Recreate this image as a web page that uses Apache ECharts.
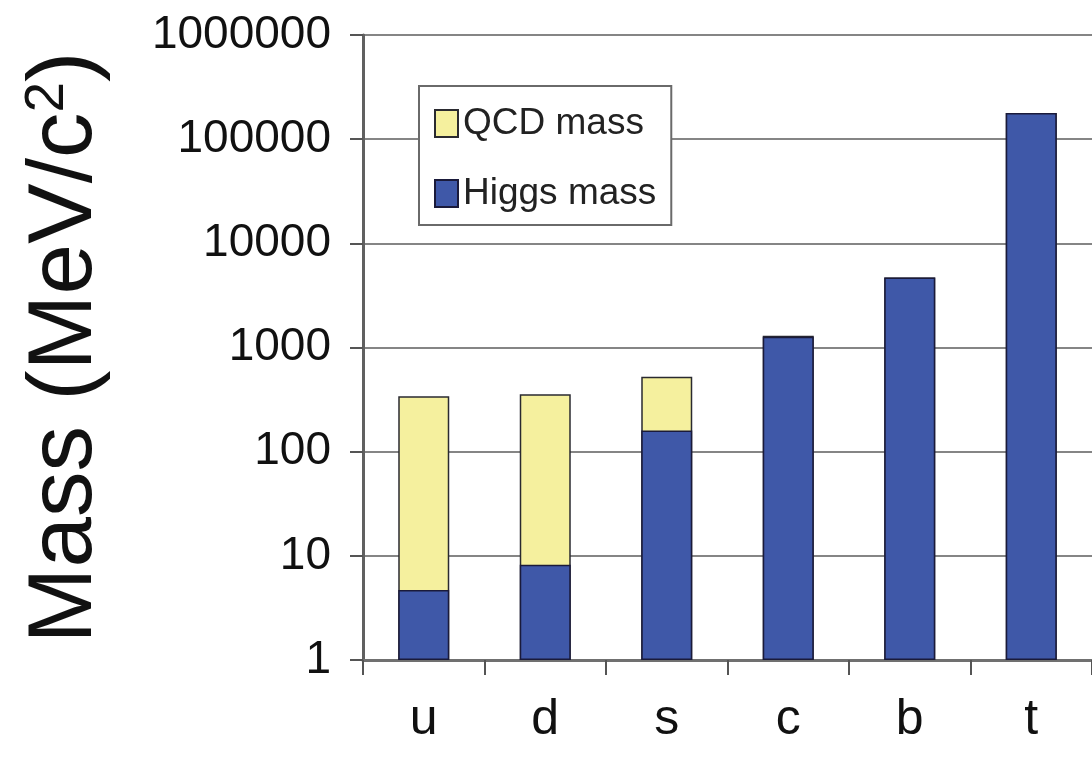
<!DOCTYPE html>
<html>
<head>
<meta charset="utf-8">
<script src="https://cdn.jsdelivr.net/npm/echarts@6/dist/echarts.min.js"></script>
<style>
html,body{margin:0;padding:0;background:#fff;}
#chart{width:1092px;height:767px;}
</style>
</head>
<body>
<div id="chart"></div>
<script>
const categories = ['u', 'd', 's', 'c', 'b', 't'];
const higgsMass = [4.7, 8.2, 160, 1270, 4700, 178000];
const qcdMass = [335, 347, 365, 30, 0, 0];
const yTicks = [1, 10, 100, 1000, 10000, 100000, 1000000];

const totalMass = higgsMass.map((h, i) => h + qcdMass[i]);

const chart = echarts.init(document.getElementById('chart'));
const font = 'Liberation Sans, Arial, sans-serif';
chart.setOption({
  animation: false,
  backgroundColor: '#ffffff',
  grid: { left: 363, right: -1, top: 35, bottom: 107, containLabel: false },
  legend: {
    orient: 'vertical',
    left: 419,
    top: 86,
    padding: [19, 15, 13, 15],
    itemGap: 33,
    itemWidth: 23,
    itemHeight: 27,
    backgroundColor: '#ffffff',
    borderColor: '#6a6a6a',
    borderWidth: 2,
    icon: 'rect',
    textStyle: { fontFamily: font, fontSize: 37, color: '#222' },
    data: ['QCD mass', 'Higgs mass']
  },
  xAxis: {
    type: 'category',
    data: categories,
    boundaryGap: true,
    axisLine: { lineStyle: { color: '#707070', width: 3 } },
    axisTick: { show: true, length: 15, lineStyle: { color: '#555', width: 2 } },
    axisLabel: { fontFamily: font, fontSize: 50, color: '#111', margin: 35 },
    splitLine: { show: false }
  },
  yAxis: {
    type: 'log',
    logBase: 10,
    min: yTicks[0],
    max: yTicks[yTicks.length - 1],
    interval: 1,
    name: 'Mass (MeV/c{sup|2})',
    nameLocation: 'middle',
    nameGap: 252,
    nameRotate: 90,
    nameTextStyle: {
      fontFamily: font, fontSize: 91, color: '#111',
      rich: { sup: { fontFamily: font, fontSize: 55, color: '#111', verticalAlign: 'top' } }
    },
    axisLine: { show: true, lineStyle: { color: '#606060', width: 3 } },
    axisTick: { show: true, length: 13, lineStyle: { color: '#555', width: 2 } },
    axisLabel: {
      fontFamily: font, fontSize: 46, color: '#111', margin: 32,
      formatter: v => String(Math.round(v))
    },
    splitLine: { show: true, lineStyle: { color: '#858585', width: 2 } }
  },
  series: [
    {
      name: 'QCD mass',
      type: 'bar',
      data: totalMass,
      barWidth: 51,
      barGap: '-100%',
      itemStyle: { color: '#f5f09e', borderColor: '#2a2a30', borderWidth: 1.5 }
    },
    {
      name: 'Higgs mass',
      type: 'bar',
      data: higgsMass,
      barWidth: 51,
      barGap: '-100%',
      itemStyle: { color: '#3f58a8', borderColor: '#1a1a3a', borderWidth: 1.5 }
    }
  ]
});
</script>
</body>
</html>
